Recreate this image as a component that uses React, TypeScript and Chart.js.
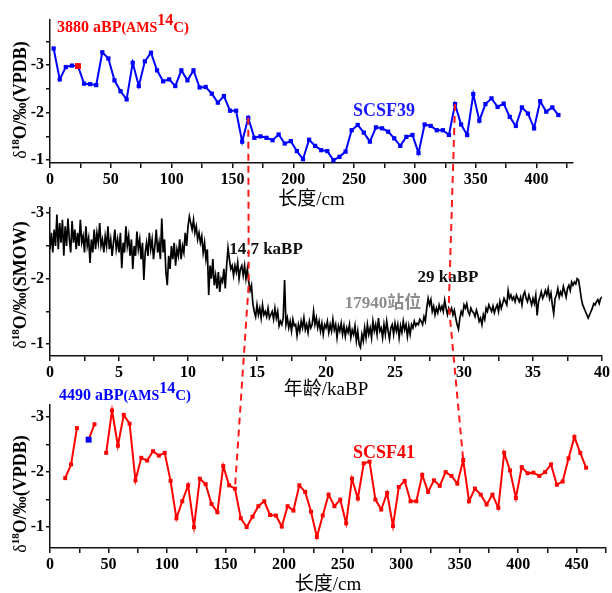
import React, { useEffect, useRef } from "react";
import { Chart, registerables } from "chart.js";
Chart.register(...registerables);

// ---------- SCSF39 core (top) ----------
const scsf39Depth = [3, 8, 13, 18, 23, 28, 33, 38, 43, 48, 53, 58, 63, 68, 73, 78, 83, 88, 93, 98, 103, 108, 113, 118, 123, 128, 133, 138, 143, 148, 153, 158, 163, 168, 173, 178, 183, 188, 193, 198, 203, 208, 213, 218, 223, 228, 233, 238, 243, 248, 253, 258, 263, 268, 273, 278, 283, 288, 293, 298, 303, 308, 313, 318, 323, 328, 333, 338, 343, 348, 353, 358, 363, 368, 373, 378, 383, 388, 393, 398, 403, 408, 413, 418];
const scsf39D18O = [
  -3.35, -2.7, -2.96, -2.99, -2.98, -2.61, -2.6, -2.58, -3.27, -3.14,
  -2.68, -2.45, -2.28, -3.05, -2.56, -3.08, -3.26, -2.89, -2.66, -2.7,
  -2.56, -2.89, -2.68, -2.89, -2.53, -2.54, -2.4, -2.21, -2.35, -2.04,
  -2.04, -1.39, -1.89, -1.47, -1.5, -1.47, -1.42, -1.54, -1.35, -1.4,
  -1.19, -1.02, -1.43, -1.3, -1.21, -1.19, -1.0, -1.07, -1.18, -1.63,
  -1.74, -1.58, -1.39, -1.69, -1.67, -1.6, -1.46, -1.3, -1.49, -1.53,
  -1.15, -1.75, -1.72, -1.63, -1.63, -1.53, -2.18, -1.75, -1.53, -2.39,
  -1.83, -2.18, -2.3, -2.12, -2.19, -1.91, -1.72, -2.11, -1.98, -1.67,
  -2.24, -2.02, -2.11, -1.95,
];
const scsf39AmsIndex = 4;
const scsf39XTicks = [0, 25, 50, 75, 100, 125, 150, 175, 200, 225, 250, 275, 300, 325, 350, 375, 400, 425];
const scsf39XTickLabels = ["0", "", "50", "", "100", "", "150", "", "200", "", "250", "", "300", "", "350", "", "400", ""];
const scsf39YTicks = [-3.5, -3, -2.5, -2, -1.5, -1];
const scsf39YTickLabels = ["", "-3", "", "-2", "", "-1"];

// ---------- Site 17940 (middle) ----------
const site17940D18O = [
  -2.45, -2.7, -2.4, -2.75, -2.5, -2.98, -2.45, -2.85, -2.55, -2.9,
  -2.35, -2.8, -2.5, -2.92, -2.6, -2.4, -2.88, -2.55, -2.75, -2.45,
  -2.7, -2.5, -2.9, -2.55, -2.65, -2.4, -2.8, -2.5, -2.62, -2.24,
  -2.6, -2.4, -2.75, -2.45, -2.7, -2.55, -2.85, -2.5, -2.6, -2.4,
  -2.65, -2.5, -2.8, -2.45, -2.6, -2.35, -2.55, -2.75, -2.45, -2.6,
  -2.4, -2.7, -2.16, -2.55, -2.4, -2.8, -2.5, -2.65, -2.35, -2.6,
  -2.15, -2.5, -2.35, -2.72, -2.45, -2.6, -2.3, -2.55, -1.98, -2.4,
  -2.55, -2.35, -2.7, -2.45, -2.6, -2.3, -2.5, -2.75, -2.4, -2.55,
  -2.3, -2.92, -2.4, -2.6, -2.1, -1.9, -2.35, -2.15, -2.5, -2.3,
  -2.55, -2.2, -2.45, -2.35, -2.6, -2.3, -2.5, -2.4, -2.7, -2.5,
  -2.8, -2.95, -2.85, -2.75, -2.9, -2.7, -2.8, -2.6, -2.7, -2.55,
  -2.65, -2.4, -2.55, -2.3, -2.45, -1.75, -2.2, -2.0, -2.3, -1.9,
  -2.05, -1.85, -2.1, -1.8, -2.0, -1.95, -2.15, -1.85, -2.2, -2.47,
  -2.3, -2.15, -2.2, -2.05, -2.2, -2.1, -2.25, -2.0, -2.15, -2.2,
  -2.05, -2.2, -2.0, -2.15, -1.95, -1.82, -1.9, -1.62, -1.5, -1.42,
  -1.6, -1.45, -1.55, -1.4, -1.6, -1.45, -1.5, -1.42, -1.55, -1.4,
  -1.45, -1.5, -1.38, -1.55, -1.4, -1.5, -1.28, -1.35, -1.3, -1.4,
  -1.98, -1.3, -1.4, -1.25, -1.35, -1.2, -1.38, -1.28, -1.3, -1.13,
  -1.3, -1.2, -1.35, -1.25, -1.4, -1.22, -1.3, -1.18, -1.35, -1.25,
  -1.3, -1.5, -1.3, -1.4, -1.25, -1.35, -1.2, -1.32, -1.15, -1.3,
  -1.25, -1.35, -1.18, -1.3, -1.2, -1.38, -1.22, -1.3, -1.1, -1.28,
  -1.2, -1.32, -1.15, -1.28, -1.12, -1.25, -1.18, -1.3, -1.1, -1.22,
  -1.15, -1.28, -1.05, -1.2, -1.0, -0.95, -1.15, -1.05, -1.25, -1.1,
  -1.3, -1.15, -1.25, -1.1, -1.35, -1.2, -1.3, -1.15, -1.4, -1.2,
  -1.25, -1.1, -1.3, -1.15, -1.35, -1.2, -1.08, -1.25, -1.3, -1.15,
  -1.32, -1.2, -1.3, -1.1, -1.28, -1.18, -1.35, -1.22, -1.3, -1.12,
  -1.28, -1.15, -1.3, -1.25, -1.35, -1.28, -1.32, -1.3, -1.38, -1.35,
  -1.3, -1.42, -1.35, -1.55, -1.7, -1.6, -1.68, -1.5, -1.58, -1.45,
  -1.55, -1.48, -1.6, -1.52, -1.58, -1.5, -1.67, -1.55, -1.45, -1.55,
  -1.5, -1.55, -1.45, -1.52, -1.4, -1.3, -1.23, -1.4, -1.5, -1.45,
  -1.6, -1.55, -1.62, -1.5, -1.45, -1.55, -1.5, -1.48, -1.42, -1.52,
  -1.45, -1.35, -1.4, -1.3, -1.45, -1.38, -1.55, -1.5, -1.6, -1.55,
  -1.5, -1.58, -1.48, -1.55, -1.6, -1.5, -1.65, -1.55, -1.62, -1.7,
  -1.65, -1.6, -1.82, -1.7, -1.75, -1.68, -1.72, -1.65, -1.75, -1.7,
  -1.65, -1.72, -1.6, -1.75, -1.8, -1.7, -1.65, -1.75, -1.68, -1.6,
  -1.7, -1.62, -1.75, -1.44, -1.65, -1.72, -1.8, -1.7, -1.75, -1.82,
  -1.75, -1.85, -1.7, -1.78, -1.6, -1.47, -1.7, -1.75, -1.85, -1.72,
  -1.8, -1.75, -1.88, -1.8, -1.72, -1.85, -1.9, -1.82, -1.95, -1.9,
  -1.95, -1.92, -2.0, -1.98, -1.85, -1.7, -1.6, -1.55, -1.5, -1.45,
  -1.4, -1.45, -1.5, -1.55, -1.62, -1.6, -1.65, -1.68, -1.62, -1.7,
  -1.72,
];
const site17940AgeStep = 0.1; // kaBP between samples
const site17940XTicks = [0, 2.5, 5, 7.5, 10, 12.5, 15, 17.5, 20, 22.5, 25, 27.5, 30, 32.5, 35, 37.5, 40];
const site17940XTickLabels = ["0", "", "5", "", "10", "", "15", "", "20", "", "25", "", "30", "", "35", "", "40"];
const site17940YTicks = [-3, -2.5, -2, -1.5, -1];
const site17940YTickLabels = ["-3", "", "-2", "", "-1"];

// ---------- SCSF41 core (bottom) ----------
const scsf41Depth = [13, 18, 23, 28, 33, 38, 43, 48, 53, 58, 63, 68, 73, 78, 83, 88, 93, 98, 103, 108, 113, 118, 123, 128, 133, 138, 143, 148, 153, 158, 163, 168, 173, 178, 183, 188, 193, 198, 203, 208, 213, 218, 223, 228, 233, 238, 243, 248, 253, 258, 263, 268, 273, 278, 283, 288, 293, 298, 303, 308, 313, 318, 323, 328, 333, 338, 343, 348, 353, 358, 363, 368, 373, 378, 383, 388, 393, 398, 403, 408, 413, 418, 423, 428, 433, 438, 443, 448, 453, 458];
const scsf41D18O = [
  -1.89, -2.14, -2.8, null, -2.59, -2.87, null, -2.35, -3.12, -2.48,
  -3.04, -2.88, -1.85, -2.26, -2.21, -2.38, -2.3, -2.35, -1.84, -1.16,
  -1.47, -1.76, -1.0, -1.88, -1.78, -1.42, -1.27, -2.11, -1.76, -1.7,
  -1.16, -1.0, -1.19, -1.38, -1.47, -1.22, -1.21, -1.01, -1.38, -1.3,
  -1.76, -1.64, -1.28, -0.82, -1.21, -1.59, -1.38, -1.5, -1.07, -1.88,
  -1.52, -2.16, -2.19, -1.5, -1.32, -1.62, -1.02, -1.73, -1.84, -1.47,
  -1.47, -1.95, -1.64, -1.85, -1.75, -2.0, -1.93, -1.79, -2.22, -1.47,
  -1.7, -1.59, -1.41, -1.59, -1.35, -2.35, -2.03, -1.53, -2.09, -1.98,
  -1.99, -1.93, -2.0, -2.14, -1.77, -1.83, -2.25, -2.64, -2.35, -2.08,
];
const scsf41AmsIndex = 4;
const scsf41XTicks = [0, 25, 50, 75, 100, 125, 150, 175, 200, 225, 250, 275, 300, 325, 350, 375, 400, 425, 450, 475];
const scsf41XTickLabels = ["0", "", "50", "", "100", "", "150", "", "200", "", "250", "", "300", "", "350", "", "400", "", "450", ""];
const scsf41YTicks = [-3, -2.5, -2, -1.5, -1];
const scsf41YTickLabels = ["-3", "", "-2", "", "-1"];

// ---------- correlation tie lines (dashed) ----------
const tieScsf39Depth = [163, 333];
const tieScsf39Value = [-1.89, -2.18];
const tie17940Age = [14.4, 28.9];
const tie17940Value = [-1.93, -1.6];
const tieScsf41Depth = [158, 353];
const tieScsf41Value = [-1.7, -2.22];

const SERIF = '"Liberation Serif", "Times New Roman", serif';
const CJK = '"Liberation Serif", "Noto Sans CJK SC", serif';

type Part = { text: string; size: number; bold?: boolean; rise?: number; family?: string };

function fontOf(p: Part) {
  return `${p.bold ? "bold " : ""}${p.size}px ${p.family || SERIF}`;
}

function drawParts(ctx: CanvasRenderingContext2D, parts: Part[], x: number, y: number, align: "left" | "center", color: string) {
  ctx.save();
  ctx.fillStyle = color;
  ctx.textBaseline = "alphabetic";
  ctx.textAlign = "left";
  const widths = parts.map((p) => {
    ctx.font = fontOf(p);
    return ctx.measureText(p.text).width;
  });
  const total = widths.reduce((a, b) => a + b, 0);
  let cx = align === "center" ? x - total / 2 : x;
  parts.forEach((p, i) => {
    ctx.font = fontOf(p);
    ctx.fillText(p.text, cx, y - (p.rise || 0));
    cx += widths[i];
  });
  ctx.restore();
}

type Label = { parts: Part[]; x: number; y: number; align: "left" | "center"; color: string };

function yTitleParts(unit: string): Part[] {
  return [
    { text: "δ", size: 18 },
    { text: "18", size: 11, bold: true, rise: 7 },
    { text: "O/‰(" + unit + ")", size: 18, bold: true },
  ];
}

function decoPlugin(yTitle: Part[], titleCx: number, titleCy: number, labels: Label[]) {
  return {
    id: "deco",
    afterDraw(chart: any) {
      const ctx: CanvasRenderingContext2D = chart.ctx;
      ctx.save();
      ctx.translate(titleCx, titleCy);
      ctx.rotate(-Math.PI / 2);
      drawParts(ctx, yTitle, 0, 6, "center", "#000");
      ctx.restore();
      labels.forEach((l) => drawParts(ctx, l.parts, l.x, l.y, l.align, l.color));
    },
  };
}

function xAxis(min: number, max: number, ticks: number[], labels: string[], title: string, height: number) {
  return {
    type: "linear",
    position: "bottom",
    min,
    max,
    afterBuildTicks: (s: any) => {
      s.ticks = ticks.map((v) => ({ value: v }));
    },
    afterFit: (s: any) => {
      s.height = height;
    },
    ticks: {
      autoSkip: false,
      maxRotation: 0,
      minRotation: 0,
      padding: 2,
      color: "#000",
      font: { family: SERIF, weight: "bold", size: 16 },
      callback: (_v: any, i: number) => labels[i] ?? "",
    },
    grid: { drawOnChartArea: false, drawTicks: true, tickLength: 5, color: "#111", lineWidth: 1.5 },
    border: { display: true, color: "#111", width: 1.5 },
    title: { display: true, text: title, color: "#000", font: { family: CJK, size: 19 }, padding: 0 },
  };
}

function yAxis(min: number, max: number, ticks: number[], labels: string[], width: number) {
  return {
    type: "linear",
    position: "left",
    reverse: true,
    min,
    max,
    afterBuildTicks: (s: any) => {
      s.ticks = ticks.map((v) => ({ value: v }));
    },
    afterFit: (s: any) => {
      s.width = width;
    },
    ticks: {
      autoSkip: false,
      padding: 2,
      color: "#000",
      font: { family: SERIF, weight: "bold", size: 16 },
      callback: (_v: any, i: number) => labels[i] ?? "",
    },
    grid: { drawOnChartArea: false, drawTicks: true, tickLength: 4, color: "#111", lineWidth: 1.5 },
    border: { display: true, color: "#111", width: 1.5 },
  };
}

const CANVAS_TOPS = [0, 195, 380];
const CANVAS_HEIGHTS = [211, 206, 216];

export default function App() {
  const r1 = useRef<HTMLCanvasElement>(null);
  const r2 = useRef<HTMLCanvasElement>(null);
  const r3 = useRef<HTMLCanvasElement>(null);
  const rov = useRef<HTMLCanvasElement>(null);

  useEffect(() => {
    const BLUE = "#0000ff";
    const RED = "#ff0000";

    const topChart = new Chart(r1.current as HTMLCanvasElement, {
      type: "line",
      data: {
        datasets: [
          {
            data: scsf39Depth.map((d, i) => ({ x: d, y: scsf39D18O[i] })),
            borderColor: BLUE,
            borderWidth: 2,
            pointStyle: "rect",
            pointRadius: (c: any) => (c.dataIndex === scsf39AmsIndex ? 4.2 : 3),
            pointBackgroundColor: (c: any) => (c.dataIndex === scsf39AmsIndex ? RED : BLUE),
            pointBorderColor: (c: any) => (c.dataIndex === scsf39AmsIndex ? RED : BLUE),
            pointBorderWidth: 0,
            tension: 0,
          },
        ],
      },
      options: {
        responsive: false,
        animation: false,
        devicePixelRatio: 1,
        layout: { padding: { top: 20, right: 39, left: 0, bottom: 0 } },
        plugins: { legend: { display: false }, tooltip: { enabled: false } },
        scales: {
          x: xAxis(0, 430, scsf39XTicks, scsf39XTickLabels, "长度/cm", 48),
          y: yAxis(-3.95, -0.94, scsf39YTicks, scsf39YTickLabels, 50),
        } as any,
      },
      plugins: [
        decoPlugin(yTitleParts("VPDB"), 20, 100, [
          {
            parts: [
              { text: "3880 aBP", size: 16, bold: true },
              { text: "(AMS", size: 14, bold: true },
              { text: "14", size: 16, bold: true, rise: 7 },
              { text: "C)", size: 15, bold: true },
            ],
            x: 57,
            y: 32,
            align: "left",
            color: RED,
          },
          { parts: [{ text: "SCSF39", size: 18, bold: true }], x: 384, y: 116, align: "center", color: "#1a1aff" },
        ]),
      ],
    } as any);

    const midChart = new Chart(r2.current as HTMLCanvasElement, {
      type: "line",
      data: {
        datasets: [
          {
            data: site17940D18O.map((v, i) => ({ x: i * site17940AgeStep, y: v })),
            borderColor: "#000",
            borderWidth: 1.7,
            pointRadius: 0,
            tension: 0,
          },
        ],
      },
      options: {
        responsive: false,
        animation: false,
        devicePixelRatio: 1,
        layout: { padding: { top: 13, right: 7, left: 0, bottom: 0 } },
        plugins: { legend: { display: false }, tooltip: { enabled: false } },
        scales: {
          x: xAxis(0, 40, site17940XTicks, site17940XTickLabels, "年龄/kaBP", 45),
          y: yAxis(-3.08, -0.82, site17940YTicks, site17940YTickLabels, 50),
        } as any,
      },
      plugins: [
        decoPlugin(yTitleParts("SMOW"), 20, 90, [
          { parts: [{ text: "14.7 kaBP", size: 17, bold: true }], x: 266, y: 59, align: "center", color: "#111" },
          { parts: [{ text: "29 kaBP", size: 17, bold: true }], x: 448, y: 87, align: "center", color: "#111" },
          { parts: [{ text: "17940站位", size: 17, bold: true, family: CJK }], x: 383, y: 113, align: "center", color: "#8c8c8c" },
        ]),
      ],
    } as any);

    const botChart = new Chart(r3.current as HTMLCanvasElement, {
      type: "line",
      data: {
        datasets: [
          {
            data: scsf41Depth.map((d, i) => ({ x: d, y: scsf41D18O[i] })),
            borderColor: RED,
            borderWidth: 2,
            spanGaps: false,
            pointStyle: "rect",
            pointRadius: (c: any) => (c.dataIndex === scsf41AmsIndex ? 4.2 : 2.8),
            pointBackgroundColor: (c: any) => (c.dataIndex === scsf41AmsIndex ? BLUE : RED),
            pointBorderColor: (c: any) => (c.dataIndex === scsf41AmsIndex ? BLUE : RED),
            pointBorderWidth: 0,
            tension: 0,
          },
        ],
      },
      options: {
        responsive: false,
        animation: false,
        devicePixelRatio: 1,
        layout: { padding: { top: 25, right: 6, left: 0, bottom: 0 } },
        plugins: { legend: { display: false }, tooltip: { enabled: false } },
        scales: {
          x: xAxis(0, 475, scsf41XTicks, scsf41XTickLabels, "长度/cm", 48),
          y: yAxis(-3.22, -0.62, scsf41YTicks, scsf41YTickLabels, 50),
        } as any,
      },
      plugins: [
        decoPlugin(yTitleParts("VPDB"), 20, 114, [
          {
            parts: [
              { text: "4490 aBP", size: 16, bold: true },
              { text: "(AMS", size: 14, bold: true },
              { text: "14", size: 16, bold: true, rise: 7 },
              { text: "C)", size: 15, bold: true },
            ],
            x: 59,
            y: 20,
            align: "left",
            color: BLUE,
          },
          { parts: [{ text: "SCSF41", size: 18, bold: true }], x: 384, y: 78, align: "center", color: RED },
        ]),
      ],
    } as any);

    const charts = [topChart, midChart, botChart];

    // dashed tie lines across the three panels
    const ov = rov.current as HTMLCanvasElement;
    const octx = ov.getContext("2d") as CanvasRenderingContext2D;
    octx.clearRect(0, 0, ov.width, ov.height);
    octx.save();
    octx.strokeStyle = "#ff1a1a";
    octx.lineWidth = 2;
    octx.setLineDash([7, 5]);
    for (let k = 0; k < tieScsf39Depth.length; k++) {
      const anchors = [
        { c: 0, x: tieScsf39Depth[k], y: tieScsf39Value[k] },
        { c: 1, x: tie17940Age[k], y: tie17940Value[k] },
        { c: 2, x: tieScsf41Depth[k], y: tieScsf41Value[k] },
      ];
      octx.beginPath();
      anchors.forEach((a, i) => {
        const ch: any = charts[a.c];
        const px = ch.scales.x.getPixelForValue(a.x);
        const py = CANVAS_TOPS[a.c] + ch.scales.y.getPixelForValue(a.y);
        if (i === 0) octx.moveTo(px, py);
        else octx.lineTo(px, py);
      });
      octx.stroke();
    }
    octx.restore();

    return () => {
      charts.forEach((c) => c.destroy());
      octx.clearRect(0, 0, ov.width, ov.height);
    };
  }, []);

  const cs = (i: number): React.CSSProperties => ({ position: "absolute", left: 0, top: CANVAS_TOPS[i] });

  return (
    <div style={{ position: "fixed", left: 0, top: 0, width: 612, height: 593, overflow: "hidden", background: "#fff" }}>
      <canvas ref={r1} width={612} height={CANVAS_HEIGHTS[0]} style={cs(0)} />
      <canvas ref={r2} width={612} height={CANVAS_HEIGHTS[1]} style={cs(1)} />
      <canvas ref={r3} width={612} height={CANVAS_HEIGHTS[2]} style={cs(2)} />
      <canvas ref={rov} width={612} height={593} style={{ position: "absolute", left: 0, top: 0, pointerEvents: "none" }} />
    </div>
  );
}
